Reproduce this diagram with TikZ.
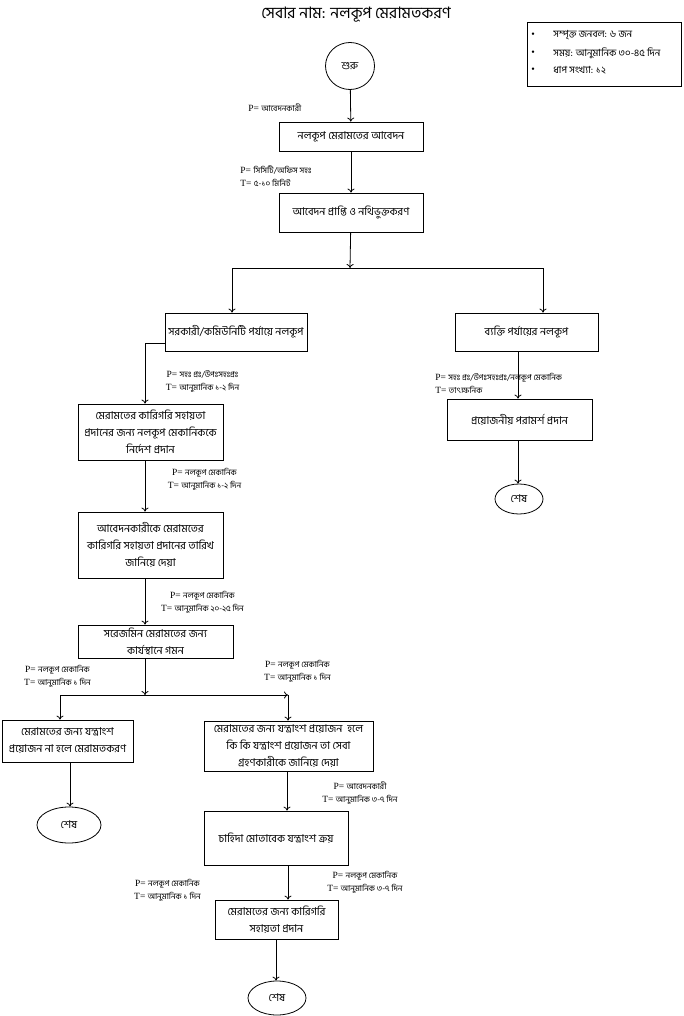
\documentclass[tikz,border=0pt]{standalone}
\usepackage{fontspec}
\setmainfont{Liberation Serif}
\newfontfamily\bn[Script=Bengali]{Hind Siliguri}
\usetikzlibrary{arrows.meta,shapes.geometric}
\newcommand\myP[1]{P= {\bn\fontsize{8.2}{9}\selectfont #1}}
\newcommand\myT[1]{T= {\bn\fontsize{8.2}{9}\selectfont #1}}
\begin{document}
\begin{tikzpicture}[x=1pt,y=-1pt,
  line width=0.8pt,
  box/.style={draw,rectangle,inner sep=1pt,align=center,font=\bn\fontsize{10.8}{17}\selectfont},
  oval/.style={draw,ellipse,inner sep=0pt,font=\bn\fontsize{10.8}{12}\selectfont},
  lab/.style={inner sep=0pt,align=center,font=\fontsize{9.5}{13}\selectfont},
  labl/.style={inner sep=0pt,align=left,anchor=west,font=\fontsize{9.5}{13}\selectfont},
  arr/.style={-{To[length=4pt,width=7pt]}}
]
\useasboundingbox (0,0) rectangle (684,1016);
% title
\node[font=\bn\fontsize{15.8}{17}\selectfont,inner sep=0pt] (title) at (356,15) {সেবার নাম: নলকূপ মেরামতকরণ};
% info box
\node[draw,rectangle,minimum width=154pt,minimum height=64pt,inner sep=0pt] (info) at (604,54) {};
\foreach \yy/\tt [count=\i] in {35/{সম্পৃক্ত জনবল: ৬ জন},53/{সময়: আনুমানিক ৩০-৪৫ দিন},70/{ধাপ সংখ্যা: ১২}}{
  \node[inner sep=0pt] (bul\i) at (533,\yy) {\textbullet};
  \node[anchor=west,inner sep=0pt,font=\bn\fontsize{9.8}{11}\selectfont] (inf\i) at (553,\yy) {\tt};
}
% nodes
\node[oval,minimum width=49pt,minimum height=47pt] (start) at (350,66) {শুরু};
\node[box,minimum width=144pt,minimum height=29pt] (b1) at (351,136.5) {নলকূপ মেরামতের আবেদন};
\node[box,minimum width=144pt,minimum height=39pt] (b2) at (351,212.5) {আবেদন প্রাপ্তি ও নথিভুক্তকরণ};
\node[box,minimum width=142pt,minimum height=38pt] (b3) at (236,332) {সরকারী/কমিউনিটি পর্যায়ে নলকূপ};
\node[box,minimum width=143pt,minimum height=38pt] (b4) at (526.5,332) {ব্যক্তি পর্যায়ের নলকূপ};
\node[box,minimum width=145pt,minimum height=41pt] (b5) at (519.5,419.5) {প্রয়োজনীয় পরামর্শ প্রদান};
\node[oval,minimum width=48pt,minimum height=30pt] (e1) at (519,499) {শেষ};
\node[box,minimum width=145pt,minimum height=56pt] (b6) at (150.5,432) {মেরামতের কারিগরি সহায়তা\\প্রদানের জন্য নলকূপ মেকানিককে\\নির্দেশ প্রদান};
\node[box,minimum width=145pt,minimum height=66pt] (b7) at (150.5,545) {আবেদনকারীকে মেরামতের\\কারিগরি সহায়তা প্রদানের তারিখ\\জানিয়ে দেয়া};
\node[box,minimum width=155pt,minimum height=33pt] (b8) at (155.5,641.5) {সরেজমিন মেরামতের জন্য\\কার্যস্থানে গমন};
\node[box,minimum width=131pt,minimum height=42pt] (b9) at (67.5,741) {মেরামতের জন্য যন্ত্রাংশ\\প্রয়োজন না হলে মেরামতকরণ};
\node[oval,minimum width=64pt,minimum height=36pt] (e2) at (69,825) {শেষ};
\node[box,minimum width=169pt,minimum height=50pt] (b10) at (288.5,746) {মেরামতের জন্য যন্ত্রাংশ প্রয়োজন \ হলে\\কি কি যন্ত্রাংশ প্রয়োজন তা সেবা\\গ্রহণকারীকে জানিয়ে দেয়া};
\node[box,minimum width=144pt,minimum height=54pt] (b11) at (276,838) {চাহিদা মোতাবেক যন্ত্রাংশ ক্রয়};
\node[box,minimum width=123pt,minimum height=39pt] (b12) at (276.5,919.5) {মেরামতের জন্য কারিগরি\\সহায়তা প্রদান};
\node[oval,minimum width=58pt,minimum height=34pt] (e3) at (277,998) {শেষ};
% labels
\node[labl] (l1) at (248,108) {\myP{আবেদনকারী}};
\node[labl] (l2) at (240,176) {\myP{সিসিটি/অফিস সহঃ}\\\myT{৫-১০ মিনিট}};
\node[labl] (l3) at (435,383) {\myP{সহঃ প্রঃ/উপঃসহঃপ্রঃ/নলকূপ মেকানিক}\\\myT{তাৎক্ষনিক}};
\node[lab] (l4) at (202.5,382) {\myP{সহঃ প্রঃ/উপঃসহঃপ্রঃ}\\\myT{আনুমানিক ১-২ দিন}};
\node[lab] (l5) at (204.5,479) {\myP{নলকূপ মেকানিক}\\\myT{আনুমানিক ১-২ দিন}};
\node[lab] (l6) at (202.5,602.5) {\myP{নলকূপ মেকানিক}\\\myT{আনুমানিক ২০-২৫ দিন}};
\node[lab] (l7) at (57.5,676.5) {\myP{নলকূপ মেকানিক}\\\myT{আনুমানিক ১ দিন}};
\node[lab] (l8) at (297.5,671.5) {\myP{নলকূপ মেকানিক}\\\myT{আনুমানিক ১ দিন}};
\node[lab] (l9) at (360,793) {\myP{আবেদনকারী}\\\myT{আনুমানিক ৩-৭ দিন}};
\node[lab] (l10) at (167.5,890) {\myP{নলকূপ মেকানিক}\\\myT{আনুমানিক ১ দিন}};
\node[lab] (l11) at (365,882) {\myP{নলকূপ মেকানিক}\\\myT{আনুমানিক ৩-৭ দিন}};
% coordinates
\coordinate (s1) at (350,268);
\coordinate (s1l) at (232,268);
\coordinate (s1r) at (543,268);
\coordinate (xr) at (518,0);
\coordinate (cl) at (145,343);
\coordinate (s2) at (145,695);
\coordinate (s2l) at (60,695);
\coordinate (s2r) at (288,695);
\coordinate (x9) at (70,0);
\coordinate (x11) at (287,0);
\coordinate (x12) at (276,0);
% connectors
\draw[arr] (start) -- (b1);
\draw[arr] (b1) -- (b2);
\draw[arr] (b2) -- (s1);
\draw (s1l) -- (s1r);
\draw[arr] (s1l) -- (b3.north -| s1l);
\draw[arr] (s1r) -- (b4.north -| s1r);
\draw[arr] (b4.south -| xr) -- (b5.north -| xr);
\draw[arr] (b5.south -| xr) -- (e1.north -| xr);
\draw[arr] (b3.west |- cl) -- (cl) -- (b6.north -| cl);
\draw[arr] (b6.south -| cl) -- (b7.north -| cl);
\draw[arr] (b7.south -| cl) -- (b8.north -| cl);
\draw[arr] (b8.south -| s2) -- (s2);
\draw (s2l) -- (s2);
\draw[arr] (s2) -- (s2r);
\draw[arr] (s2l) -- (b9.north -| s2l);
\draw[arr] (s2r) -- (b10.north -| s2r);
\draw[arr] (b9.south -| x9) -- (e2.north -| x9);
\draw[arr] (b10.south -| x11) -- (b11.north -| x11);
\draw[arr] (b11.south -| s2r) -- (b12.north -| s2r);
\draw[arr] (b12.south -| x12) -- (e3.north -| x12);
\end{tikzpicture}
\end{document}
